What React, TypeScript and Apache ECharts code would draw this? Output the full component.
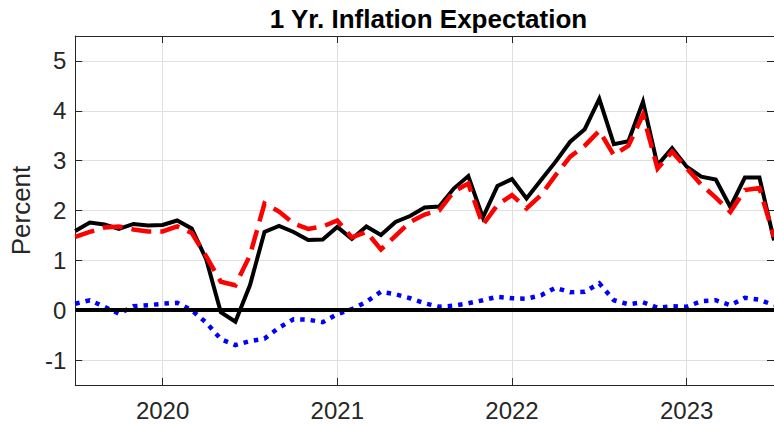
import React, { useEffect, useRef } from "react";
import * as echarts from "echarts";

const months = [
  "2019-07", "2019-08", "2019-09", "2019-10", "2019-11", "2019-12",
  "2020-01", "2020-02", "2020-03", "2020-04", "2020-05", "2020-06",
  "2020-07", "2020-08", "2020-09", "2020-10", "2020-11", "2020-12",
  "2021-01", "2021-02", "2021-03", "2021-04", "2021-05", "2021-06",
  "2021-07", "2021-08", "2021-09", "2021-10", "2021-11", "2021-12",
  "2022-01", "2022-02", "2022-03", "2022-04", "2022-05", "2022-06",
  "2022-07", "2022-08", "2022-09", "2022-10", "2022-11", "2022-12",
  "2023-01", "2023-02", "2023-03", "2023-04", "2023-05", "2023-06",
  "2023-07",
];

const blackSeries = [
  1.59, 1.76, 1.72, 1.63, 1.73, 1.70,
  1.71, 1.80, 1.64, 1.02, -0.04, -0.23,
  0.50, 1.57, 1.69, 1.57, 1.41, 1.42,
  1.67, 1.43, 1.68, 1.51, 1.77, 1.89,
  2.06, 2.08, 2.44, 2.69, 1.86, 2.49,
  2.63, 2.24, 2.61, 2.98, 3.38, 3.63,
  4.24, 3.33, 3.39, 4.18, 2.91, 3.25,
  2.88, 2.68, 2.62, 2.07, 2.66, 2.66,
  1.40,
];

const redSeries = [
  1.47, 1.57, 1.66, 1.68, 1.62, 1.58,
  1.58, 1.68, 1.55, 1.08, 0.57, 0.50,
  1.10, 2.14, 1.98, 1.74, 1.63, 1.68,
  1.80, 1.46, 1.57, 1.22, 1.49, 1.77,
  1.92, 2.00, 2.38, 2.54, 1.71, 2.11,
  2.31, 2.04, 2.31, 2.71, 3.08, 3.30,
  3.60, 3.11, 3.30, 3.92, 2.84, 3.18,
  2.85, 2.52, 2.26, 1.97, 2.41, 2.45,
  1.47,
];

const blueSeries = [
  0.13, 0.20, 0.07, -0.07, 0.08, 0.10,
  0.13, 0.15, 0.00, -0.25, -0.58, -0.70,
  -0.62, -0.57, -0.35, -0.18, -0.19, -0.24,
  -0.08, 0.02, 0.17, 0.37, 0.32, 0.24,
  0.14, 0.07, 0.09, 0.14, 0.20, 0.27,
  0.24, 0.23, 0.30, 0.45, 0.36, 0.37,
  0.54, 0.20, 0.12, 0.16, 0.05, 0.08,
  0.07, 0.18, 0.20, 0.10, 0.25, 0.21,
  0.10,
];

const yearTicks = [2020, 2021, 2022, 2023];
const yTicks = [-1, 0, 1, 2, 3, 4, 5];

const FONT = "'Liberation Sans', Arial, Helvetica, sans-serif";
const TEXT = "#262626";
const GRIDC = "#dfdfdf";

// x positions: months since Jan 2020
const monthIndex = (s: string) => {
  const [y, m] = s.split("-").map(Number);
  return (y - 2020) * 12 + (m - 1);
};
const xs = months.map(monthIndex);
const xTickVals = yearTicks.map((y) => (y - 2020) * 12);

export default function App() {
  const ref = useRef<HTMLDivElement>(null);
  useEffect(() => {
    if (!ref.current) return;
    const chart = echarts.init(ref.current, null, { renderer: "svg" });
    const pair = (arr: number[]) => arr.map((v, i) => [xs[i], v]);
    const xMin = xs[0];
    const xMax = xs[xs.length - 1];
    chart.setOption({
      animation: false,
      backgroundColor: "#ffffff",
      title: {
        text: "1 Yr. Inflation Expectation",
        left: 423.5,
        top: 1,
        textAlign: "center",
        textStyle: { fontFamily: FONT, fontSize: 26, fontWeight: "bold", color: "#000" },
      },
      grid: { left: 72, top: 36, width: 703, height: 349, containLabel: false },
      xAxis: [
        {
          type: "value",
          min: xMin,
          max: xMax,
          position: "bottom",
          axisLine: { show: true, onZero: false, lineStyle: { color: TEXT, width: 1 } },
          axisTick: { show: true, inside: true, length: 7, customValues: xTickVals, lineStyle: { color: TEXT } },
          axisLabel: {
            show: true,
            customValues: xTickVals,
            formatter: (v: number) => String(2020 + Math.round(v / 12)),
            fontFamily: FONT,
            fontSize: 24,
            color: TEXT,
            margin: 13,
          },
          splitLine: { show: true, lineStyle: { color: GRIDC, width: 1 } },
        },
        {
          type: "value",
          min: xMin,
          max: xMax,
          position: "top",
          axisLine: { show: true, onZero: false, lineStyle: { color: TEXT, width: 1 } },
          axisTick: { show: true, inside: true, length: 7, customValues: xTickVals, lineStyle: { color: TEXT } },
          axisLabel: { show: false },
          splitLine: { show: false },
        },
      ],
      yAxis: [
        {
          type: "value",
          min: -1.5,
          max: 5.5,
          position: "left",
          name: "Percent",
          nameLocation: "middle",
          nameRotate: 90,
          nameGap: 38,
          nameTextStyle: { fontFamily: FONT, fontSize: 26, color: TEXT },
          axisLine: { show: true, onZero: false, lineStyle: { color: TEXT, width: 1 } },
          axisTick: { show: true, inside: true, length: 7, customValues: yTicks, lineStyle: { color: TEXT } },
          axisLabel: {
            show: true,
            customValues: yTicks,
            fontFamily: FONT,
            fontSize: 24,
            color: TEXT,
            margin: 9,
          },
          splitLine: { show: true, lineStyle: { color: GRIDC, width: 1 } },
        },
        {
          type: "value",
          min: -1.5,
          max: 5.5,
          position: "right",
          axisLine: { show: true, onZero: false, lineStyle: { color: TEXT, width: 1 } },
          axisTick: { show: true, inside: true, length: 7, customValues: yTicks, lineStyle: { color: TEXT } },
          axisLabel: { show: false },
          splitLine: { show: false },
        },
      ],
      series: [
        {
          type: "line",
          data: pair(blackSeries),
          showSymbol: false,
          symbol: "none",
          lineStyle: { color: "#000000", width: 4, join: "miter" },
          markLine: {
            silent: true,
            symbol: ["none", "none"],
            label: { show: false },
            lineStyle: { color: "#000000", width: 4, type: "solid" },
            data: [{ yAxis: 0 }],
          },
          z: 2,
        },
        {
          type: "line",
          data: pair(redSeries),
          showSymbol: false,
          symbol: "none",
          lineStyle: { color: "#ff0000", width: 4.5, type: [20, 9], join: "miter" },
          z: 3,
        },
        {
          type: "line",
          data: pair(blueSeries),
          showSymbol: false,
          symbol: "none",
          lineStyle: { color: "#0000ff", width: 4.5, type: [4.5, 6], join: "miter" },
          z: 4,
        },
      ],
    });
    return () => chart.dispose();
  }, []);
  return (
    <div
      ref={ref}
      style={{ position: "absolute", left: 0, top: 0, width: 774, height: 425 }}
    />
  );
}
